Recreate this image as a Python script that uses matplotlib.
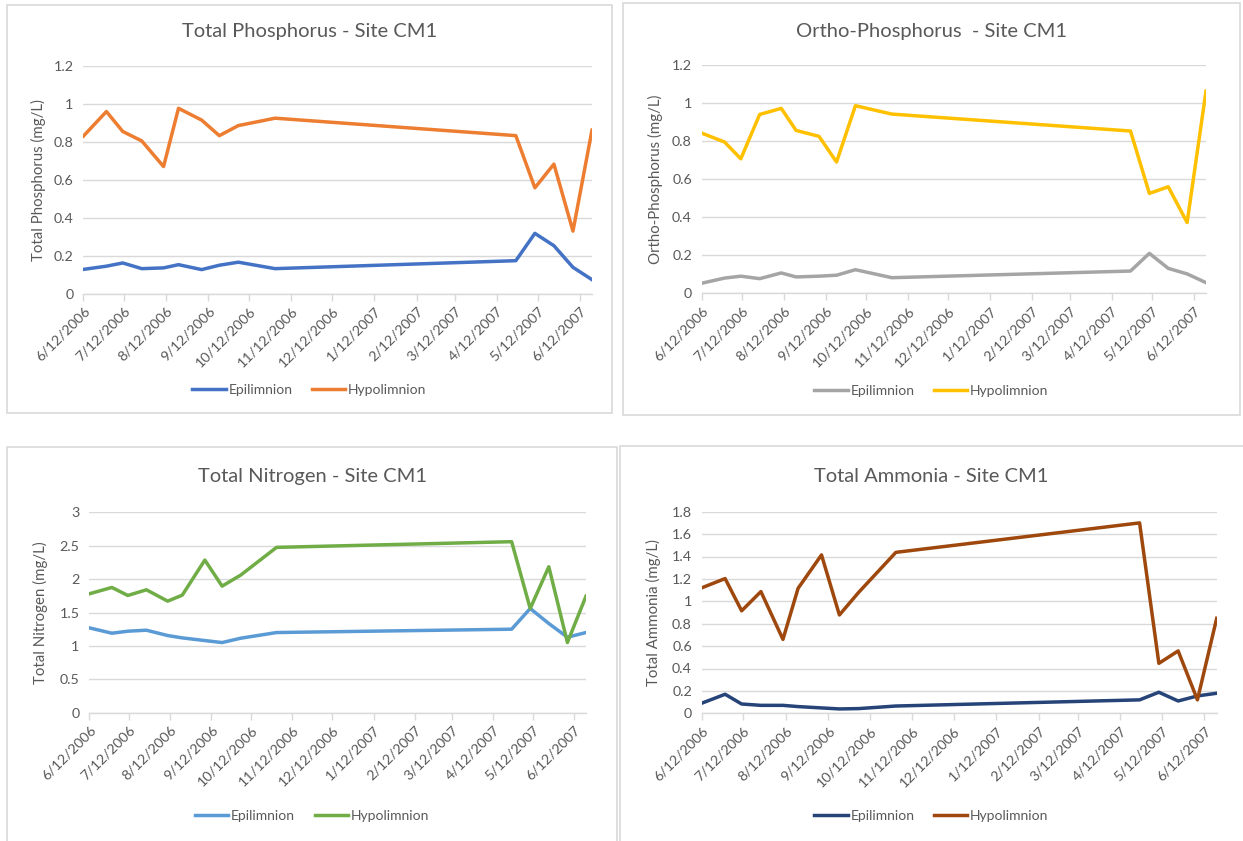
import matplotlib
matplotlib.use('Agg')
import matplotlib.pyplot as plt
from matplotlib.patches import Rectangle
from matplotlib.ticker import FuncFormatter, MultipleLocator
import pandas as pd

plt.rcParams['font.family'] = ['Lato', 'DejaVu Sans']

# sampling dates
sample_dates = pd.to_datetime([
    '2006-06-12', '2006-06-29', '2006-07-11', '2006-07-25', '2006-08-10',
    '2006-08-21', '2006-09-07', '2006-09-20', '2006-10-04', '2006-10-31',
    '2007-04-26', '2007-05-10', '2007-05-24', '2007-06-07', '2007-06-21'])

tick_labels = ['6/12/2006', '7/12/2006', '8/12/2006', '9/12/2006', '10/12/2006',
               '11/12/2006', '12/12/2006', '1/12/2007', '2/12/2007', '3/12/2007',
               '4/12/2007', '5/12/2007', '6/12/2007']
tick_dates = pd.to_datetime(tick_labels, format='%m/%d/%Y')

series_names = ['Epilimnion', 'Hypolimnion']

tp_epi = [0.128, 0.145, 0.162, 0.132, 0.136, 0.153, 0.127, 0.150, 0.166, 0.132,
          0.174, 0.318, 0.253, 0.139, 0.074]
tp_hypo = [0.830, 0.960, 0.855, 0.805, 0.670, 0.977, 0.915, 0.833, 0.886, 0.925,
           0.833, 0.558, 0.683, 0.330, 0.862]

op_epi = [0.053, 0.080, 0.090, 0.077, 0.107, 0.086, 0.090, 0.095, 0.124, 0.082,
          0.117, 0.210, 0.131, 0.102, 0.056]
op_hypo = [0.842, 0.795, 0.707, 0.940, 0.972, 0.856, 0.825, 0.690, 0.986, 0.942,
           0.853, 0.525, 0.560, 0.372, 1.063]

tn_epi = [1.27, 1.19, 1.22, 1.235, 1.155, 1.12, 1.08, 1.05, 1.115, 1.20,
          1.25, 1.56, 1.335, 1.13, 1.20]
tn_hypo = [1.78, 1.875, 1.755, 1.84, 1.67, 1.76, 2.285, 1.895, 2.06, 2.475,
           2.56, 1.56, 2.185, 1.05, 1.745]

ta_epi = [0.090, 0.170, 0.083, 0.071, 0.071, 0.060, 0.048, 0.039, 0.042, 0.065,
          0.120, 0.188, 0.110, 0.155, 0.179]
ta_hypo = [1.120, 1.203, 0.915, 1.087, 0.660, 1.116, 1.414, 0.878, 1.080, 1.437,
           1.700, 0.446, 0.557, 0.120, 0.848]

W, H = 1243, 841
GRAY = '#595959'
GRID = '#D9D9D9'

fig = plt.figure(figsize=(W / 100, H / 100), dpi=100)

panels = [
    dict(title='Total Phosphorus - Site CM1', ylabel='Total Phosphorus (mg/L)',
         epi=tp_epi, hypo=tp_hypo, colors=('#4472C4', '#ED7D31'), ymax=1.2, step=0.2,
         rect=(83.3, 66, 592, 293.7), border=(7, 5, 612, 413),
         title_y=32, ylab_x=38, leg_y=390),
    dict(title='Ortho-Phosphorus  - Site CM1', ylabel='Ortho-Phosphorus (mg/L)',
         epi=op_epi, hypo=op_hypo, colors=('#A5A5A5', '#FFC000'), ymax=1.2, step=0.2,
         rect=(701.7, 65, 1206, 293.3), border=(623, 3, 1240, 415),
         title_y=31, ylab_x=655, leg_y=391),
    dict(title='Total Nitrogen - Site CM1', ylabel='Total Nitrogen (mg/L)',
         epi=tn_epi, hypo=tn_hypo, colors=('#5B9BD5', '#70AD47'), ymax=3, step=0.5,
         rect=(89.3, 512.3, 586, 712.7), border=(7, 447, 617, 845),
         title_y=477, ylab_x=40, leg_y=816),
    dict(title='Total Ammonia - Site CM1', ylabel='Total Ammonia (mg/L)',
         epi=ta_epi, hypo=ta_hypo, colors=('#264478', '#9E480E'), ymax=1.8, step=0.2,
         rect=(701.7, 511.7, 1216.7, 713.3), border=(620, 446, 1250, 845),
         title_y=476, ylab_x=653, leg_y=816),
]

for p in panels:
    # chart area border
    bx0, by0, bx1, by1 = p['border']
    fig.patches.append(Rectangle((bx0 / W, 1 - by1 / H), (bx1 - bx0) / W, (by1 - by0) / H,
                                 transform=fig.transFigure, fill=False, ec=GRID, lw=1.2))
    cx = min(bx1, W) / 2 + bx0 / 2

    x0, y0, x1, y1 = p['rect']
    ax = fig.add_axes([x0 / W, 1 - y1 / H, (x1 - x0) / W, (y1 - y0) / H])
    l1, = ax.plot(sample_dates, p['epi'], color=p['colors'][0], lw=2.5, solid_joinstyle='round')
    l2, = ax.plot(sample_dates, p['hypo'], color=p['colors'][1], lw=2.5, solid_joinstyle='round')

    ax.set_xlim(sample_dates[0], sample_dates[-1])
    ax.set_ylim(0, p['ymax'])
    ax.yaxis.set_major_locator(MultipleLocator(p['step']))
    ax.yaxis.set_major_formatter(FuncFormatter(lambda v, _: '%g' % round(v, 2)))
    ax.set_xticks(tick_dates)
    ax.set_xticklabels(tick_labels, rotation=45, ha='right', rotation_mode='anchor')

    ax.grid(axis='y', color=GRID, lw=1)
    ax.set_axisbelow(True)
    for s in ['top', 'right', 'left']:
        ax.spines[s].set_visible(False)
    ax.spines['bottom'].set_color(GRID)
    ax.spines['bottom'].set_linewidth(1)
    ax.tick_params(axis='x', colors=GRID, length=5, width=1, labelcolor=GRAY,
                   labelsize=10.3, pad=3)
    ax.tick_params(axis='y', length=0, labelcolor=GRAY, labelsize=10.3, pad=7)

    fig.text(p['ylab_x'] / W, 1 - ((y0 + y1) / 2) / H, p['ylabel'], rotation=90,
             ha='center', va='center', color=GRAY, fontsize=10.8)
    fig.text(cx / W, 1 - p['title_y'] / H, p['title'],
             ha='center', va='center', color=GRAY, fontsize=14.5)
    fig.legend([l1, l2], series_names, loc='center', ncol=2, frameon=False,
               bbox_to_anchor=(cx / W, 1 - p['leg_y'] / H),
               fontsize=10, labelcolor=GRAY, handlelength=2.4, handletextpad=0.2,
               columnspacing=1.4)

fig.savefig('out.png', dpi=100, facecolor='white')
